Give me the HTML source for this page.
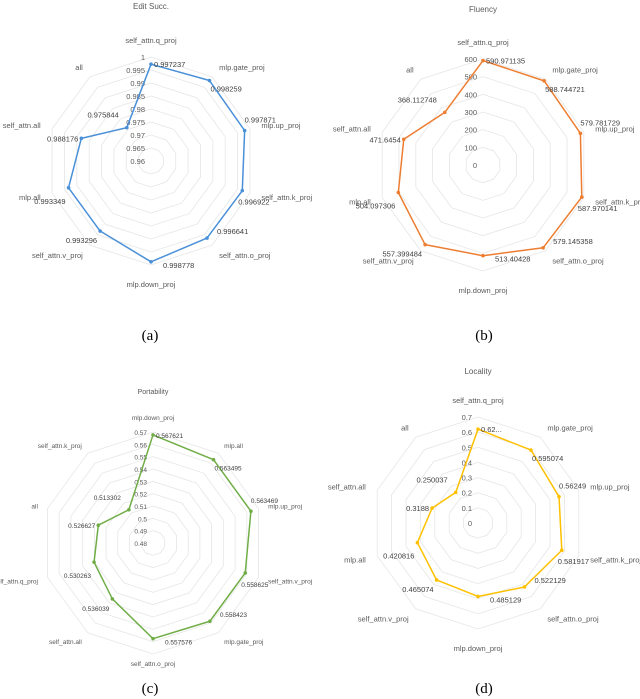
<!DOCTYPE html>
<html><head><meta charset="utf-8"><style>
body{margin:0;background:#fff}
svg{display:block;font-family:"Liberation Sans",sans-serif}
</style></head><body>
<svg id="fig" width="640" height="699" viewBox="0 0 640 699"></svg>
<script>
// ---- Chart (a) Edit Succ.
const aAxes=["self_attn.q_proj","mlp.gate_proj","mlp.up_proj","self_attn.k_proj","self_attn.o_proj","mlp.down_proj","self_attn.v_proj","mlp.all","self_attn.all","all"];
const aValues=[0.997237,0.998259,0.997871,0.996922,0.996641,0.998778,0.993296,0.993349,0.988176,0.975844];
const aValueLabels=["0.997237","0.998259","0.997871","0.996922","0.996641","0.998778","0.993296","0.993349","0.988176","0.975844"];
const aTicks=[0.96,0.965,0.97,0.975,0.98,0.985,0.99,0.995,1];
const aTickLabels=["0.96","0.965","0.97","0.975","0.98","0.985","0.99","0.995","1"];
// ---- Chart (b) Fluency
const bAxes=["self_attn.q_proj","mlp.gate_proj","mlp.up_proj","self_attn.k_proj","self_attn.o_proj","mlp.down_proj","self_attn.v_proj","mlp.all","self_attn.all","all"];
const bValues=[590.971135,588.744721,579.781729,587.970141,579.145358,513.40428,557.399484,504.097306,471.6454,368.112748];
const bValueLabels=["590.971135","588.744721","579.781729","587.970141","579.145358","513.40428","557.399484","504.097306","471.6454","368.112748"];
const bTicks=[0,100,200,300,400,500,600];
const bTickLabels=["0","100","200","300","400","500","600"];
// ---- Chart (c) Portability
const cAxes=["mlp.down_proj","mlp.all","mlp.up_proj","self_attn.v_proj","mlp.gate_proj","self_attn.o_proj","self_attn.all","self_attn.q_proj","all","self_attn.k_proj"];
const cValues=[0.567621,0.563495,0.563469,0.558625,0.558423,0.557576,0.536039,0.530263,0.526627,0.513302];
const cValueLabels=["0.567621","0.563495","0.563469","0.558625","0.558423","0.557576","0.536039","0.530263","0.526627","0.513302"];
const cTicks=[0.48,0.49,0.5,0.51,0.52,0.53,0.54,0.55,0.56,0.57];
const cTickLabels=["0.48","0.49","0.5","0.51","0.52","0.53","0.54","0.55","0.56","0.57"];
// ---- Chart (d) Locality
const dAxes=["self_attn.q_proj","mlp.gate_proj","mlp.up_proj","self_attn.k_proj","self_attn.o_proj","mlp.down_proj","self_attn.v_proj","mlp.all","self_attn.all","all"];
const dValues=[0.62,0.595074,0.56249,0.581917,0.522129,0.485129,0.465074,0.420816,0.3188,0.250037];
const dValueLabels=["0.62...","0.595074","0.56249","0.581917","0.522129","0.485129","0.465074","0.420816","0.3188","0.250037"];
const dTicks=[0,0.1,0.2,0.3,0.4,0.5,0.6,0.7];
const dTickLabels=["0","0.1","0.2","0.3","0.4","0.5","0.6","0.7"];

const NS="http://www.w3.org/2000/svg";
const svg=document.getElementById('fig');
function mk(tag,attrs,parent){const e=document.createElementNS(NS,tag);for(const k in attrs)e.setAttribute(k,attrs[k]);(parent||svg).appendChild(e);return e;}

// label placement style per axis slot: [anchor, dx, dy]
const slotStyle=[["start",3,3],["start",1,11],["start",0,-8],["start",-4,14],["start",10,-4],["start",12,6],["end",-3,12],["end",-3,16],["end",-3,3],["end",-8,-10]];

function radar(cfg){
  const g=mk('g',{});
  
  
  const n=cfg.axes.length, min=cfg.ticks[0], max=cfg.ticks[cfg.ticks.length-1];
  const rScale=v=>(v-min)/(max-min)*cfg.R;
  const pt=(i,r)=>{const a=i*2*Math.PI/n;return [cfg.cx+r*Math.sin(a),cfg.cy-r*Math.cos(a)];};
  const t=mk('text',{x:cfg.cx,y:cfg.ty,'text-anchor':'middle','font-size':cfg.tfs,fill:'#595959'},g);
  t.textContent=cfg.title;
  
  
  cfg.ticks.forEach((tv,k)=>{
    if(k===0)return;
    const r=rScale(tv);
    const pts=[];for(let i=0;i<n;i++)pts.push(pt(i,r).join(','));
    const ring=mk('polygon',{points:pts.join(' '),fill:'none',stroke:'#e6e6e6','stroke-width':0.8},g);
    
    
  });
  cfg.ticks.forEach((tv,k)=>{
    const tl=mk('text',{x:cfg.cx-6,y:cfg.cy-rScale(tv)+3,'text-anchor':'end','font-size':cfg.fs,fill:'#595959'},g);
    tl.textContent=cfg.tickLabels[k];
    
    
  });
  cfg.axes.forEach((name,i)=>{
    const a=i*360/n;
    const [x,y]=pt(i,cfg.R+cfg.lr);
    let anchor='middle';
    if(a>5&&a<175)anchor='start';else if(a>185&&a<355)anchor='end';
    let dy=3;
    if(a<5)dy=-2;else if(a>175&&a<185)dy=cfg.bdy;
    const al=mk('text',{x:x,y:y+dy,'text-anchor':anchor,'font-size':cfg.fs,fill:'#595959'},g);
    al.textContent=name;
    
    
  });
  const sp=cfg.values.map((v,i)=>pt(i,rScale(v)));
  const poly=mk('polygon',{points:sp.map(p=>p.join(',')).join(' '),fill:'none',stroke:cfg.color,'stroke-width':1.5,'stroke-linejoin':'round'},g);
  
  
  sp.forEach((p,i)=>{
    const c=mk('circle',{cx:p[0],cy:p[1],r:1.8,fill:cfg.color},g);
    
    
    const s=slotStyle[i%slotStyle.length];
    const vl=mk('text',{x:p[0]+s[1],y:p[1]+s[2],'text-anchor':s[0],'font-size':cfg.fs,fill:'#404040'},g);
    vl.textContent=cfg.valueLabels[i];
    
    
  });
}

radar({name:'edit-succ-radar',title:'Edit Succ.',cx:151,cy:161,R:104,lr:12,bdy:10,ty:9,tfs:8,fs:7.5,color:'#4a90d9',axes:aAxes,values:aValues,valueLabels:aValueLabels,ticks:aTicks,tickLabels:aTickLabels});
radar({name:'fluency-radar',title:'Fluency',cx:483,cy:165,R:106,lr:12,bdy:10,ty:12,tfs:8,fs:7.5,color:'#ed7d31',axes:bAxes,values:bValues,valueLabels:bValueLabels,ticks:bTicks,tickLabels:bTickLabels});
radar({name:'portability-radar',title:'Portability',cx:153,cy:543,R:111,lr:10,bdy:2,ty:394,tfs:7,fs:6.5,color:'#70ad47',axes:cAxes,values:cValues,valueLabels:cValueLabels,ticks:cTicks,tickLabels:cTickLabels});
radar({name:'locality-radar',title:'Locality',cx:478,cy:523,R:106,lr:12,bdy:10,ty:374,tfs:8,fs:7.5,color:'#ffc000',axes:dAxes,values:dValues,valueLabels:dValueLabels,ticks:dTicks,tickLabels:dTickLabels});

[["(a)",150,340],["(b)",484,340],["(c)",150,693],["(d)",484,693]].forEach(c=>{
  const s=mk('text',{x:c[1],y:c[2],'text-anchor':'middle','font-size':15,fill:'#000','font-family':'Liberation Serif, serif'});
  s.textContent=c[0];
  
  
});
</script>
</body></html>
